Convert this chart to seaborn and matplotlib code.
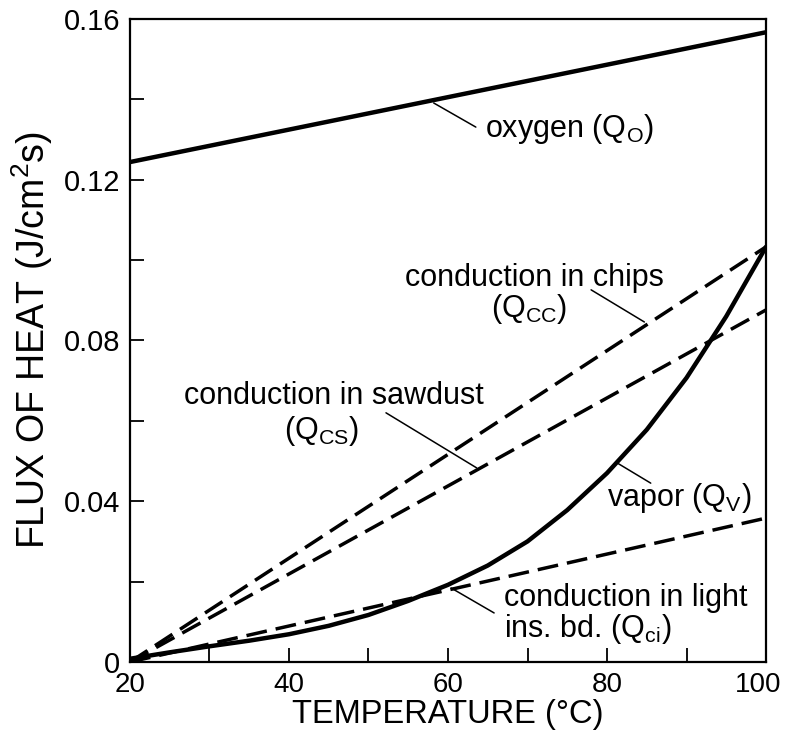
import matplotlib
matplotlib.use("Agg")
import matplotlib.pyplot as plt
import matplotlib.transforms as mtransforms
import seaborn as sns
import pandas as pd
import numpy as np

# ---- data ----
temp_lin = [20, 100]
oxygen = [0.1244, 0.1567]
chips = [0.0, 0.1033]
sawdust = [0.0, 0.0876]
light_bd = [0.0, 0.0358]

temp_vap = [20, 25, 30, 35, 40, 45, 50, 55, 60, 65, 70, 75, 80, 85, 90, 95, 100]
vapor = [0.0008, 0.0024, 0.0039, 0.0053, 0.0069, 0.0090, 0.0117, 0.0152, 0.0192,
         0.0240, 0.0300, 0.0378, 0.0470, 0.0578, 0.0707, 0.0860, 0.1033]

yticks = [0, 0.04, 0.08, 0.12, 0.16]
ytick_labels = ["0", "0.04", "0.08", "0.12", "0.16"]
xticks = [20, 40, 60, 80, 100]

sns.set_theme(style="ticks")
plt.rcParams["font.family"] = ["Liberation Sans", "DejaVu Sans"]
plt.rcParams["mathtext.default"] = "regular"
plt.rcParams["text.color"] = "black"
plt.rcParams["axes.labelcolor"] = "black"
plt.rcParams["xtick.color"] = "black"
plt.rcParams["ytick.color"] = "black"

fig = plt.figure(figsize=(7.85, 7.33), dpi=100)
ax = fig.add_axes([0.1656, 0.0969, 0.8102, 0.8772])

lin = pd.DataFrame({"T": temp_lin, "oxygen": oxygen, "chips": chips,
                    "sawdust": sawdust, "light": light_bd})
vap = pd.DataFrame({"T": temp_vap, "vapor": vapor})

sns.lineplot(data=lin, x="T", y="oxygen", ax=ax, color="black", lw=3.2)
sns.lineplot(data=vap, x="T", y="vapor", ax=ax, color="black", lw=3.2)
for col in ["chips", "sawdust", "light"]:
    sns.lineplot(data=lin, x="T", y=col, ax=ax, color="black", lw=2.5,
                 linestyle=(0, (6, 2.6)))

ax.set_xlim(20, 100)
ax.set_ylim(0, 0.16)
ax.set_xticks(xticks)
ax.set_xticks(np.arange(30, 100, 20), minor=True)
ax.set_yticks(yticks)
ax.set_yticklabels(ytick_labels)
ax.set_yticks([0.02, 0.06, 0.10, 0.14], minor=True)
ax.tick_params(which="both", direction="in", length=10, width=1.3,
               labelsize=21)
ax.tick_params(axis="y", pad=7)
ax.tick_params(axis="x", labelsize=20, pad=7)
for s in ax.spines.values():
    s.set_linewidth(1.6)
    s.set_color("black")

# pull the "100" label a little left so it stays inside the figure
last = ax.get_xticklabels()[-1]
last.set_transform(last.get_transform() +
                   mtransforms.ScaledTranslation(-6 / 72, 0, fig.dpi_scale_trans))

ax.set_xlabel("TEMPERATURE (°C)", fontsize=23.5, labelpad=1)
ax.set_ylabel("FLUX OF HEAT (J/cm$^2$s)", fontsize=27, labelpad=6)

fs = 22
lead = dict(color="black", lw=1.1)
# labels and leader lines
ax.text(64.7, 0.1325, "oxygen (Q$_O$)", fontsize=fs, ha="left", va="center")
ax.plot([58.2, 63.5], [0.1391, 0.1331], **lead)

ax.text(70.9, 0.0955, "conduction in chips", fontsize=fs, ha="center", va="center")
ax.text(70.2, 0.0878, "(Q$_{CC}$)", fontsize=fs, ha="center", va="center")
ax.plot([78.0, 84.7], [0.0926, 0.0846], **lead)

ax.text(45.7, 0.0662, "conduction in sawdust", fontsize=fs, ha="center", va="center")
ax.text(44.1, 0.0575, "(Q$_{CS}$)", fontsize=fs, ha="center", va="center")
ax.plot([52.2, 63.6], [0.0620, 0.0483], **lead)

ax.text(80.0, 0.0408, "vapor (Q$_V$)", fontsize=fs, ha="left", va="center")
ax.plot([81.3, 85.5], [0.0495, 0.0445], **lead)

ax.text(67.0, 0.0160, "conduction in light", fontsize=fs, ha="left", va="center")
ax.text(67.0, 0.0083, "ins. bd. (Q$_{ci}$)", fontsize=fs, ha="left", va="center")
ax.plot([60.4, 65.8], [0.0184, 0.0122], **lead)

fig.savefig("out.png", dpi=100)
